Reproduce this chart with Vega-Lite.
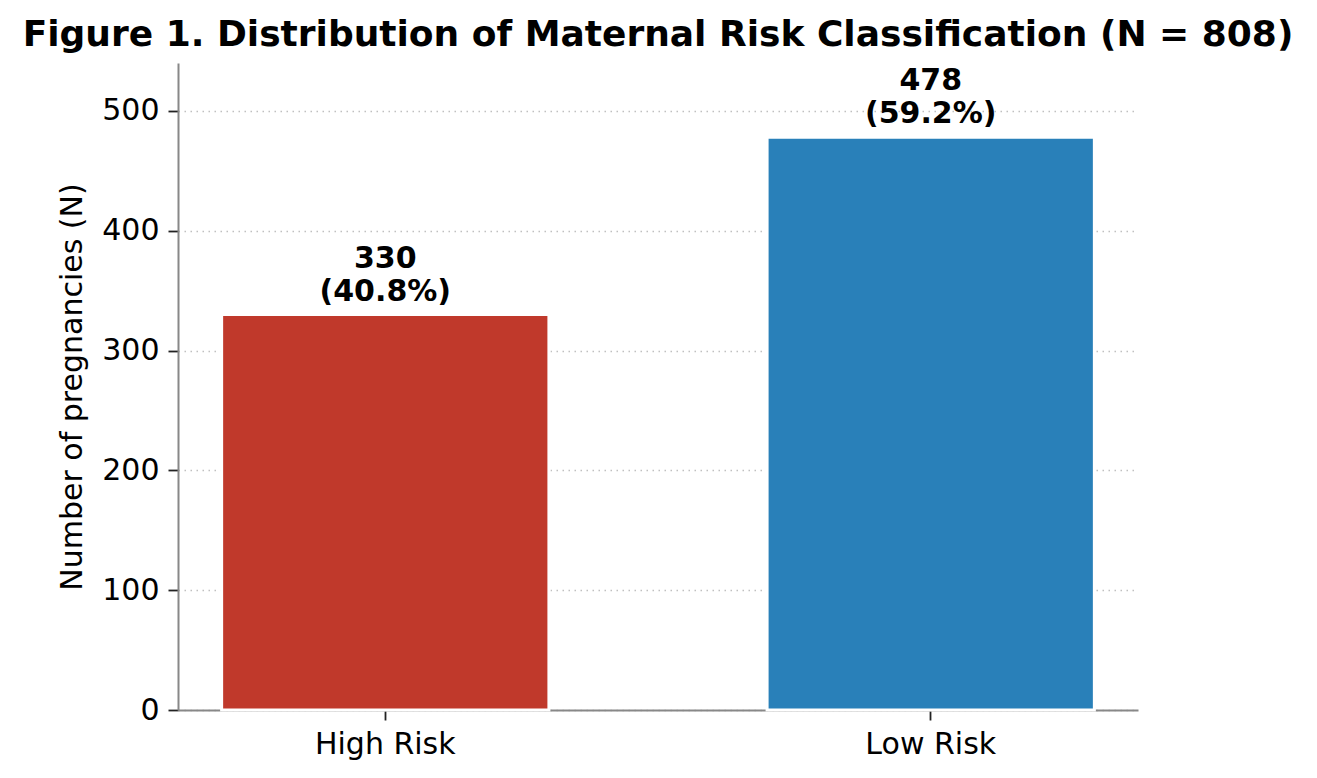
{
  "$schema": "https://vega.github.io/schema/vega-lite/v6.json",
  "autosize": "none",
  "width": 960,
  "height": 647,
  "padding": {"left": 178, "top": 63, "right": 179, "bottom": 68},
  "background": "white",
  "config": {
    "font": "DejaVu Sans",
    "view": {"stroke": null}
  },
  "title": {
    "text": "Figure 1. Distribution of Maternal Risk Classification (N = 808)",
    "font": "DejaVu Sans",
    "fontSize": 36,
    "fontWeight": "bold",
    "color": "#000000",
    "anchor": "middle",
    "baseline": "alphabetic",
    "offset": 16,
    "dy": 35
  },
  "data": {
    "values": [
      {"group": "High Risk", "count": 330, "label": "330\n(40.8%)"},
      {"group": "Low Risk", "count": 478, "label": "478\n(59.2%)"}
    ]
  },
  "encoding": {
    "x": {
      "field": "group",
      "type": "nominal",
      "sort": null,
      "scale": {"paddingInner": 0.4, "paddingOuter": 0.08},
      "axis": {
        "title": null,
        "labelAngle": 0,
        "labelFontSize": 30,
        "labelColor": "#000000",
        "labelPadding": 9,
        "tickSize": 10,
        "tickWidth": 1.8,
        "tickColor": "#222222",
        "domainColor": "#888888",
        "domainWidth": 2,
        "grid": false
      }
    },
    "y": {
      "field": "count",
      "type": "quantitative",
      "scale": {"domain": [0, 540], "nice": false},
      "axis": {
        "title": "Number of pregnancies (N)",
        "titleFontSize": 30,
        "titleFontWeight": "normal",
        "titleColor": "#000000",
        "titlePadding": 14,
        "values": [0, 100, 200, 300, 400, 500],
        "labelFontSize": 30,
        "labelColor": "#000000",
        "labelPadding": 9,
        "tickSize": 10,
        "tickWidth": 1.8,
        "tickColor": "#222222",
        "domainColor": "#888888",
        "domainWidth": 2,
        "grid": true,
        "gridColor": "#c0c0c0",
        "gridWidth": 1.5,
        "gridDash": [1.5, 4.5]
      }
    }
  },
  "layer": [
    {
      "mark": {"type": "bar", "stroke": "white", "strokeWidth": 3},
      "encoding": {
        "color": {
          "field": "group",
          "type": "nominal",
          "scale": {"domain": ["High Risk", "Low Risk"], "range": ["#c0392b", "#2980b9"]},
          "legend": null
        }
      }
    },
    {
      "mark": {
        "type": "text",
        "baseline": "bottom",
        "align": "center",
        "dy": -41,
        "fontSize": 30,
        "fontWeight": "bold",
        "color": "#000000",
        "lineBreak": "\n",
        "lineHeight": 33
      },
      "encoding": {
        "text": {"field": "label"}
      }
    }
  ]
}
